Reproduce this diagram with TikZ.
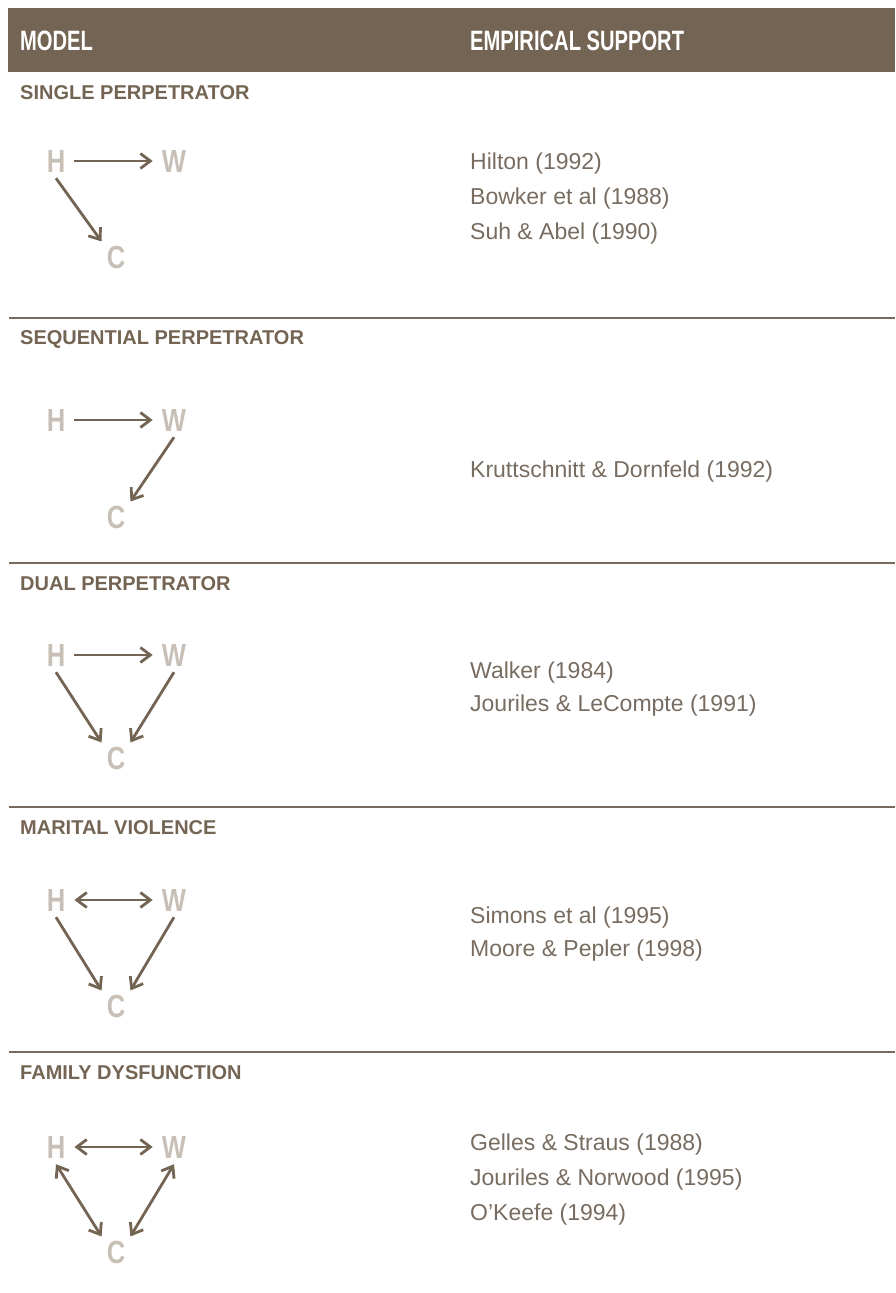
\documentclass[tikz,border=0pt]{standalone}
\usepackage{fontspec}
\setmainfont{Liberation Sans}
\newfontfamily\condfont{Liberation Sans}[FakeStretch=0.72]
\newfontfamily\actorfont{Liberation Sans Bold}[FakeStretch=0.8]
\usetikzlibrary{arrows.meta}

\definecolor{brn}{RGB}{115,100,83}
\definecolor{rulecol}{RGB}{120,106,92}
\definecolor{actorcol}{RGB}{200,192,183}
\definecolor{reftext}{RGB}{120,108,96}

\tikzset{
  headtext/.style={anchor=base west, inner sep=0, text=white, font=\condfont\bfseries\fontsize{28}{32}\selectfont},
  modeltitle/.style={anchor=base west, inner sep=0, text=brn, font=\bfseries\fontsize{20}{24}\selectfont},
  ref/.style={anchor=base west, inner sep=0, text=reftext, font=\fontsize{23}{27}\selectfont},
  actor/.style={inner xsep=9pt, inner ysep=6pt, text=actorcol, font=\actorfont\fontsize{32}{36}\selectfont},
  kid/.style={actor, inner xsep=5pt, inner ysep=4pt},
  link/.style={draw=brn, line width=2.8pt, -{Straight Barb[length=10pt,width=15pt]}},
  both/.style={draw=brn, line width=2.8pt, {Straight Barb[length=10pt,width=15pt]}-{Straight Barb[length=10pt,width=15pt]}},
  divider/.style={draw=rulecol, line width=2.4pt}
}

\begin{document}
\begin{tikzpicture}[x=1pt,y=-1pt]
\useasboundingbox (0,0) rectangle (895,1293);
% header
\fill[brn] (8,8) rectangle (895,72);
\node[headtext] (model) at (20,50) {MODEL};
\node[headtext] (support) at (470,50) {EMPIRICAL SUPPORT};

% single perpetrator
\node[modeltitle] (t1) at (20,99) {SINGLE PERPETRATOR};
\node[actor] (h1) at (56,161) {H};
\node[actor] (w1) at (174,161) {W};
\node[kid] (c1) at (116,257) {C};
\path[link] (h1) -- (w1);
\path[link] (h1.south) -- (c1.north west);
\node[ref] (r1a) at (470,169) {Hilton (1992)};
\node[ref] (r1b) at (470,204) {Bowker et al (1988)};
\node[ref] (r1c) at (470,239) {Suh \& Abel (1990)};
\path[divider] (9,318) -- (895,318);

% sequential perpetrator
\node[modeltitle] (t2) at (20,344) {SEQUENTIAL PERPETRATOR};
\node[actor] (h2) at (56,420) {H};
\node[actor] (w2) at (174,420) {W};
\node[kid] (c2) at (116,517) {C};
\path[link] (h2) -- (w2);
\path[link] (w2.south) -- (c2.north east);
\node[ref] (r2a) at (470,477) {Kruttschnitt \& Dornfeld (1992)};
\path[divider] (9,563) -- (895,563);

% dual perpetrator
\node[modeltitle] (t3) at (20,590) {DUAL PERPETRATOR};
\node[actor] (h3) at (56,655) {H};
\node[actor] (w3) at (174,655) {W};
\node[kid] (c3) at (116,758) {C};
\path[link] (h3) -- (w3);
\path[link] (h3.south) -- (c3.north west);
\path[link] (w3.south) -- (c3.north east);
\node[ref] (r3a) at (470,678) {Walker (1984)};
\node[ref] (r3b) at (470,711) {Jouriles \& LeCompte (1991)};
\path[divider] (9,807) -- (895,807);

% marital violence
\node[modeltitle] (t4) at (20,834) {MARITAL VIOLENCE};
\node[actor] (h4) at (56,900) {H};
\node[actor] (w4) at (174,900) {W};
\node[kid] (c4) at (116,1006) {C};
\path[both] (h4) -- (w4);
\path[link] (h4.south) -- (c4.north west);
\path[link] (w4.south) -- (c4.north east);
\node[ref] (r4a) at (470,923) {Simons et al (1995)};
\node[ref] (r4b) at (470,956) {Moore \& Pepler (1998)};
\path[divider] (9,1052) -- (895,1052);

% family dysfunction
\node[modeltitle] (t5) at (20,1079) {FAMILY DYSFUNCTION};
\node[actor] (h5) at (56,1147) {H};
\node[actor] (w5) at (174,1147) {W};
\node[kid] (c5) at (116,1252) {C};
\path[both] (h5) -- (w5);
\path[both] (h5.south) -- (c5.north west);
\path[both] (w5.south) -- (c5.north east);
\node[ref] (r5a) at (470,1150) {Gelles \& Straus (1988)};
\node[ref] (r5b) at (470,1185) {Jouriles \& Norwood (1995)};
\node[ref] (r5c) at (470,1220) {O’Keefe (1994)};
\end{tikzpicture}
\end{document}
